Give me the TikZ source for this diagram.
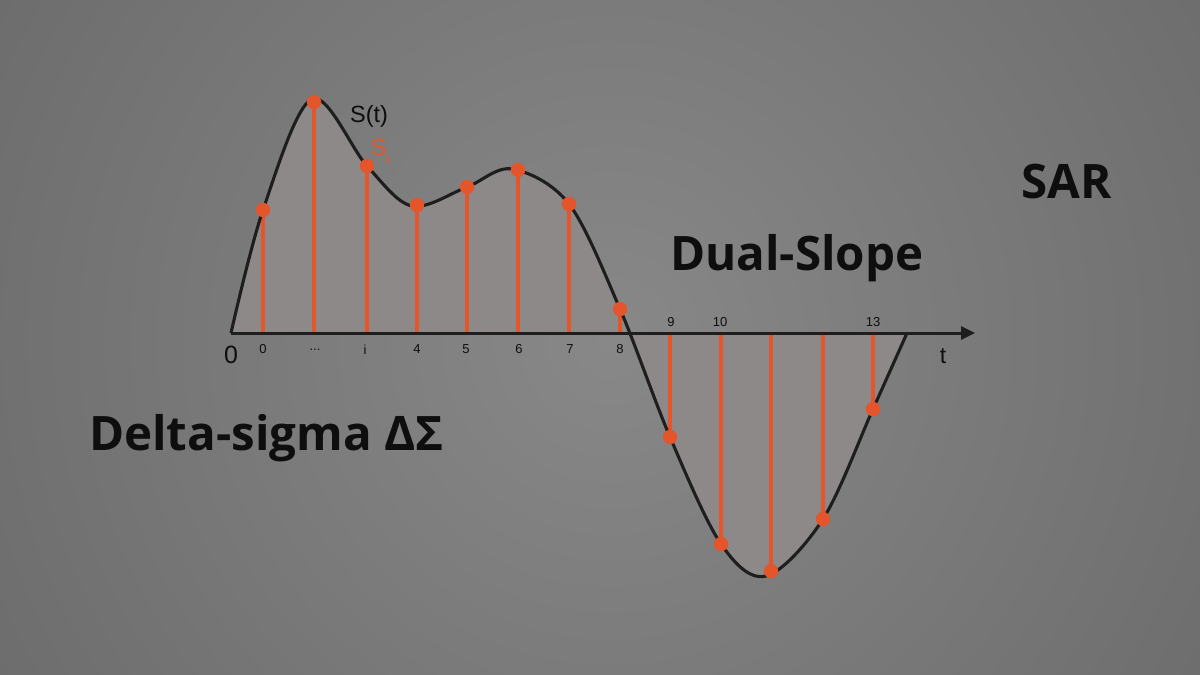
\documentclass[tikz,border=0pt]{standalone}
\usepackage{fontspec}
\setmainfont{Liberation Sans}
\newfontfamily\headfont{Open Sans}
\usetikzlibrary{arrows.meta}
\definecolor{bgout}{HTML}{6D6D6D}
\definecolor{bgin}{HTML}{888888}
\definecolor{areafill}{HTML}{8D8988}
\definecolor{sampleorange}{HTML}{E4552C}
\definecolor{curvecol}{HTML}{1E1E1E}
\definecolor{textcol}{HTML}{0E0E0E}
\tikzset{
  stemline/.style={draw=sampleorange, line width=3.1pt},
  sampledot/.style={fill=sampleorange},
  signal/.style={draw=curvecol, line width=3.1pt, line join=round},
  axisline/.style={draw=curvecol, line width=3pt, -{Triangle[length=14pt,width=13pt]}},
  ticklabel/.style={text=textcol, font=\fontsize{13}{15}\selectfont, inner sep=0pt},
  headline/.style={text=textcol, font=\headfont\bfseries\fontsize{47.5}{52}\selectfont, inner sep=0pt, anchor=base west},
}
\begin{document}
\begin{tikzpicture}[x=1pt,y=-1pt]
\useasboundingbox (0,0) rectangle (1200,675);
\begin{scope}
  \clip (0,0) rectangle (1200,675);
  \shade[inner color=bgin, outer color=bgout] (610,340) circle (700pt);
\end{scope}

% axis ends
\coordinate (o) at (231,333);
\coordinate (tip) at (975,333);

% filled area under the signal
\path[fill=areafill] plot[smooth, tension=0.55] coordinates {
  (231,333) (263,210) (312,99) (367,166) (412,206) (467,187) (512,169)
  (569,204) (620,309) (670,437) (721,544) (766,576) (823,519) (873,409) (907,333)} -- cycle;

% samples
\foreach \n/\x/\y in {0/263/210, 1/314/102, 2/367/166, 3/417/205, 4/467/187, 5/518/170,
  6/569/204, 7/620/309, 8/670/437, 9/721/544, 10/771/571, 11/823/519, 12/873/409} {
  \coordinate (f\n) at (\x,333);
  \coordinate (s\n) at (\x,\y);
  \draw[stemline] (f\n) -- (s\n);
}

% signal curve
\draw[signal] plot[smooth, tension=0.55] coordinates {
  (231,333) (263,210) (312,99) (367,166) (412,206) (467,187) (512,169)
  (569,204) (620,309) (670,437) (721,544) (766,576) (823,519) (873,409) (907,333)};

% axis
\draw[axisline] (o) -- (tip);

% dots
\foreach \n in {0,...,12} {
  \fill[sampledot] (s\n) circle (7.2pt);
}

% tick labels
\node[ticklabel] (l0) at (263,349.5) {0};
\node[ticklabel] (l1) at (315,349.5) {...};
\node[ticklabel] (l2) at (365,349.5) {i};
\node[ticklabel] (l3) at (417,349.5) {4};
\node[ticklabel] (l4) at (466,349.5) {5};
\node[ticklabel] (l5) at (519,349.5) {6};
\node[ticklabel] (l6) at (570,349.5) {7};
\node[ticklabel] (l7) at (620,349.5) {8};
\node[ticklabel] (l8) at (671,322) {9};
\node[ticklabel] (l9) at (720,322) {10};
\node[ticklabel] (l12) at (873,322) {13};

\node[text=textcol, font=\fontsize{25}{27}\selectfont, inner sep=0pt] (zero) at (231,355) {0};
\node[text=textcol, font=\fontsize{23}{25}\selectfont, inner sep=0pt] (tlab) at (943,356) {t};
\node[text=textcol, font=\fontsize{23.5}{26}\selectfont, inner sep=0pt, anchor=base west] (St) at (350,122) {S(t)};
\node[text=sampleorange, font=\fontsize{23.5}{26}\selectfont, inner sep=0pt, anchor=base west] (Si) at (371,155) {S};
\node[text=sampleorange, font=\bfseries\fontsize{12}{14}\selectfont, inner sep=0pt, anchor=base west] (Sisub) at (386,163) {i};

% headings
\node[headline] (ds) at (89,450) {Delta-sigma ΔΣ};
\node[headline] (dual) at (670,270) {Dual-Slope};
\node[headline] (sar) at (1021,198) {SAR};
\end{tikzpicture}
\end{document}
